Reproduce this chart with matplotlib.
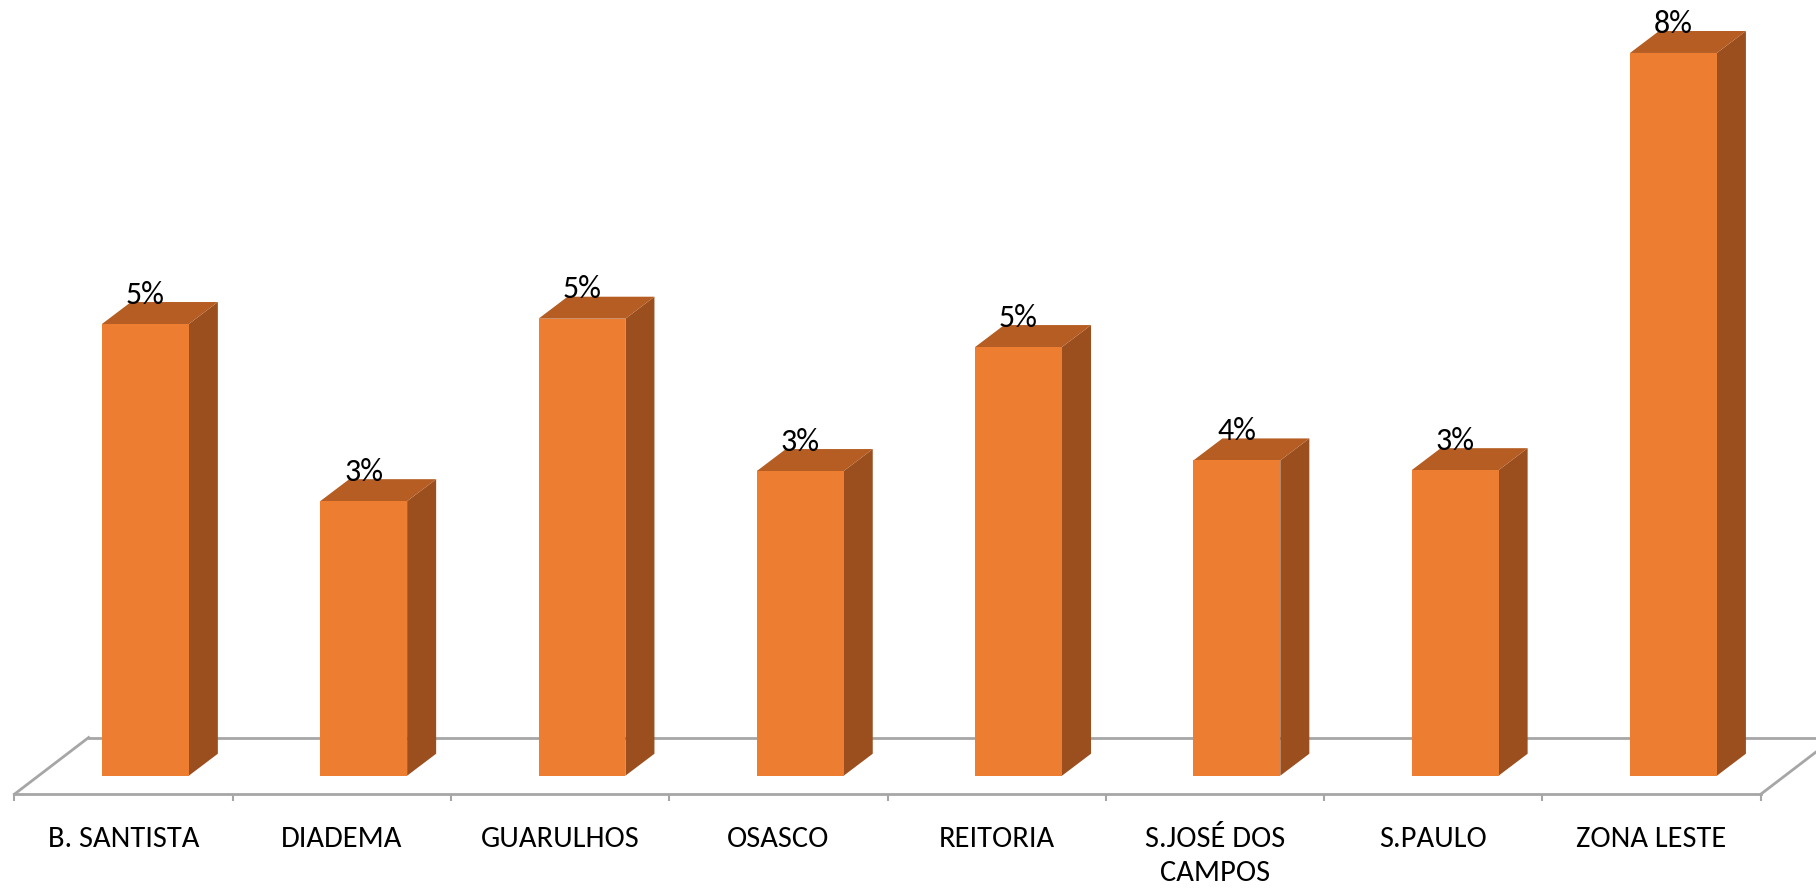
import matplotlib
matplotlib.use("Agg")
import matplotlib.pyplot as plt

# data (percent of total)
campi = ["B. SANTISTA", "DIADEMA", "GUARULHOS", "OSASCO", "REITORIA",
         "S.JOSÉ DOS\nCAMPOS", "S.PAULO", "ZONA LESTE"]
valores = [5.10, 3.10, 5.16, 3.44, 4.84, 3.56, 3.45, 8.16]

# colours of the 3d faces
cor_frente = "#ED7D31"
cor_lado = "#9C4F1E"
cor_topo = "#B55D23"
cor_piso = "#A6A6A6"

plt.rcParams['font.family'] = ['Carlito', 'Lato', 'DejaVu Sans']

fig = plt.figure(figsize=(18.16, 8.88), dpi=100)
ax = fig.add_axes([0, 0, 1, 1])
ax.set_xlim(-0.666, 7.653)
ax.set_ylim(-1.268, 8.758)
ax.axis("off")

w = 0.398              # bar width
dx, dy = 0.133, 0.248  # depth offset of a bar
fx, fy = 0.34, 0.64    # depth offset of the floor
f0 = -0.209            # front edge of the floor
n = len(campi)
left, right = -0.6, n - 0.6

# floor
ax.plot([left, right], [f0, f0], color=cor_piso, lw=2, zorder=1)
ax.plot([left + fx, right + fx], [f0 + fy, f0 + fy], color=cor_piso, lw=2, zorder=1)
ax.plot([left, left + fx], [f0, f0 + fy], color=cor_piso, lw=2, zorder=1)
ax.plot([right, right + fx], [f0, f0 + fy], color=cor_piso, lw=2, zorder=1)
ax.vlines([left + k for k in range(n + 1)], f0 - 0.08, f0, color=cor_piso, lw=1.5, zorder=1)

for i, v in enumerate(valores):
    x0, x1 = i - w / 2, i + w / 2
    ax.fill([x1, x1 + dx, x1 + dx, x1], [0, dy, v + dy, v], color=cor_lado, lw=0, zorder=2)
    ax.fill([x0, x1, x1 + dx, x0 + dx], [v, v, v + dy, v + dy], color=cor_topo, lw=0, zorder=2)
    ax.text(i, v + dy - 0.02, f"{v:.0f}%", ha="center", va="baseline", fontsize=23, zorder=4)
    ax.text(i - 0.1, f0 - 0.36, campi[i], ha="center", va="top", fontsize=22,
            linespacing=1.4, zorder=4)

ax.bar(range(n), valores, width=w, color=cor_frente, zorder=3)

fig.savefig("out.png", dpi=100)
